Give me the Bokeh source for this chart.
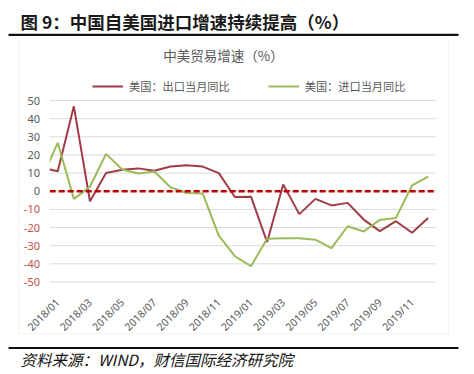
import math
from bokeh.plotting import figure
from bokeh.models import (ColumnDataSource, Label, BoxAnnotation, Legend, LegendItem, Range1d)
from bokeh.core.properties import value
from bokeh.embed import file_html
from bokeh.resources import INLINE

# ---------------- data ----------------
months = ["2017/12",
          "2018/01", "2018/02", "2018/03", "2018/04", "2018/05", "2018/06",
          "2018/07", "2018/08", "2018/09", "2018/10", "2018/11", "2018/12",
          "2019/01", "2019/02", "2019/03", "2019/04", "2019/05", "2019/06",
          "2019/07", "2019/08", "2019/09", "2019/10", "2019/11", "2019/12"]
export_yoy = [13.0,
              11.0, 46.8, -5.5, 10.0, 11.8, 12.6,
              11.3, 13.6, 14.3, 13.6, 10.0, -3.2,
              -3.0, -28.0, 3.7, -12.6, -4.2, -7.8,
              -6.4, -15.6, -22.0, -16.5, -22.9, -14.8]
import_yoy = [7.0,
              26.7, -4.2, 2.5, 20.6, 12.0, 9.8,
              10.9, 2.2, -1.0, -1.2, -24.5, -35.8,
              -41.3, -26.2, -25.9, -25.9, -26.7, -31.3,
              -19.3, -22.2, -15.8, -14.7, 3.2, 8.0]
tick_labels = ["2018/01", "2018/03", "2018/05", "2018/07", "2018/09", "2018/11",
               "2019/01", "2019/03", "2019/05", "2019/07", "2019/09", "2019/11"]
y_ticks = [50, 40, 30, 20, 10, 0, -10, -20, -30, -40, -50]
series_names = ["美国：出口当月同比", "美国：进口当月同比"]
title_text = "图 9：中国自美国进口增速持续提高（%）"
inner_title = "中美贸易增速（%）"
source_text = "资料来源：WIND，财信国际经济研究院"

# ---------------- layout (pixels) ----------------
W, H = 474, 374
PL, PR, PT, PB = 49.2, 435.7, 100.0, 281.5   # plot-area box
base = months.index("2018/01")
X0, X1 = -0.5, len(months) - base - 0.5       # category edges
Y0, Y1 = min(y_ticks), max(y_ticks)
kx = (PR - PL) / (X1 - X0)
ky = (PB - PT) / (Y1 - Y0)

def dx(px):
    return X0 + (px - PL) / kx

def dy(py):
    return Y1 - (py - PT) / ky

xs = [i - base for i in range(len(months))]
src = ColumnDataSource(dict(x=xs, exp=export_yoy, imp=import_yoy))

p = figure(width=W, height=H, output_backend="svg", toolbar_location=None,
           x_axis_location=None, y_axis_location=None,
           x_range=Range1d(dx(0), dx(W)), y_range=Range1d(dy(H), dy(0)),
           min_border=0, min_border_left=0, min_border_right=0,
           min_border_top=0, min_border_bottom=0,
           background_fill_color="white", border_fill_color="white")
p.outline_line_color = None
p.xgrid.visible = False
p.ygrid.visible = False

# outer rules and inner box
p.add_layout(BoxAnnotation(left=dx(18), right=dx(448), top=dy(37.5), bottom=dy(333),
                           fill_alpha=0, line_color="#D4D4D4", line_width=1, level="underlay"))
for yy in (34.3, 347.5):
    p.add_layout(BoxAnnotation(left=dx(8), right=dx(458), top=dy(yy - 1.1), bottom=dy(yy + 1.1),
                               fill_color="#111111", fill_alpha=1, line_color=None))

# horizontal grid lines
p.segment(x0=X0, x1=X1, y0=y_ticks, y1=y_ticks, line_color="#D9D9D9", line_width=1)

# series
r_exp = p.line("x", "exp", source=src, line_color="#A23B45", line_width=2)
r_imp = p.line("x", "imp", source=src, line_color="#9BBB59", line_width=2)

# cover of the part outside the plot area on the left
p.add_layout(BoxAnnotation(left=dx(40.5), right=dx(PL), top=dy(PT - 2), bottom=dy(PB + 2),
                           fill_color="white", fill_alpha=1, line_color=None))

# zero reference line
p.segment(x0=[X0], x1=[X1], y0=[0], y1=[0], line_color="#C00000",
          line_width=2.5, line_dash="6 3")

# y tick labels
ylab = ColumnDataSource(dict(
    x=[dx(39.5)] * len(y_ticks), y=y_ticks, text=[str(v) for v in y_ticks],
    color=["#595959" if v >= 0 else "#C0504D" for v in y_ticks]))
p.text(x="x", y="y", text="text", source=ylab, text_color="color",
       text_align="right", text_baseline="middle",
       text_font=value("Noto Sans"), text_font_size="11px")

# x tick labels
tick_pos = [months.index(t) - base for t in tick_labels]
xlab = ColumnDataSource(dict(x=tick_pos, y=[dy(300)] * len(tick_pos), text=tick_labels))
p.text(x="x", y="y", text="text", source=xlab, angle=math.pi / 4,
       text_color="#595959", text_align="right", text_baseline="middle",
       text_font=value("Noto Sans"), text_font_size="10.5px")

# legend
legend = Legend(items=[LegendItem(label=series_names[0], renderers=[r_exp]),
                       LegendItem(label=series_names[1], renderers=[r_imp])],
                orientation="horizontal", location=(92, H - 96),
                label_text_font="Noto Sans CJK SC", label_text_font_size="11.2px",
                label_text_color="#595959", glyph_width=31, glyph_height=20,
                label_height=20, label_standoff=6, spacing=38, padding=0, margin=0,
                border_line_color=None, background_fill_alpha=0)
p.add_layout(legend, "center")

# texts
p.add_layout(Label(x=dx(20), y=dy(20.5), text=title_text,
                   text_font="Noto Sans CJK SC", text_font_size="17.5px",
                   text_font_style="bold", text_color="#1A1A1A",
                   text_align="left", text_baseline="middle"))
p.add_layout(Label(x=dx(223), y=dy(54), text=inner_title,
                   text_font="Noto Sans CJK SC", text_font_size="13.5px",
                   text_color="#595959", text_align="center", text_baseline="middle"))
p.add_layout(Label(x=dx(20), y=dy(358), text=source_text,
                   text_font="Noto Sans CJK SC", text_font_size="15.5px",
                   text_font_style="italic", text_color="#111111",
                   text_align="left", text_baseline="middle"))

open("out.html", "w").write(file_html(p, INLINE))
